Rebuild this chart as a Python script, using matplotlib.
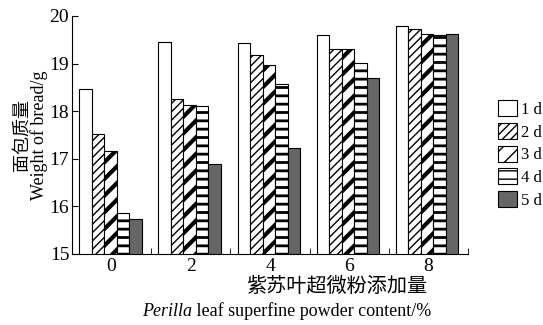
import matplotlib.pyplot as plt
import numpy as np

plt.rcParams['font.family'] = ['Liberation Serif', 'Noto Sans CJK SC']
plt.rcParams['hatch.color'] = 'black'

contents = ['0', '2', '4', '6', '8']
days = ['1 d', '2 d', '3 d', '4 d', '5 d']
d1 = [18.47, 19.45, 19.43, 19.60, 19.80]
d2 = [17.52, 18.25, 19.18, 19.30, 19.72]
d3 = [17.16, 18.12, 18.97, 19.30, 19.62]
d4 = [15.87, 18.10, 18.57, 19.01, 19.60]
d5 = [15.73, 16.89, 17.23, 18.70, 19.62]

series = [d1, d2, d3, d4, d5]
fills = ['white', 'white', 'white', 'white', '#666666']
hatches = [None, '////', '//', '--', None]
hlw = [1.0, 1.0, 3.0, 2.0, 1.0]

fig = plt.figure(figsize=(5.43, 3.25), dpi=100)
ax = fig.add_axes([72/543, 1-254/325, (468-72)/543, (254-16)/325])

x = np.arange(len(contents))
w = 0.158
for i, vals in enumerate(series):
    bars = ax.bar(x - 0.41 + w*i + w/2, vals, width=w, bottom=0,
                  color=fills[i], edgecolor='black', linewidth=0.8,
                  hatch=hatches[i], label=days[i])
    for b in bars:
        try:
            b.set_hatch_linewidth(hlw[i])
        except AttributeError:
            pass

ax.set_ylim(15, 20)
ax.set_xlim(-0.5, 4.5)
ax.set_yticks([15, 16, 17, 18, 19, 20])
ax.set_xticks(x)
ax.set_xticklabels(contents)
ax.set_xticks(np.arange(0.5, 5, 1), minor=True)
ax.tick_params(axis='x', which='major', length=0, labelsize=14, pad=3)
ax.tick_params(axis='x', which='minor', direction='in', length=4)
ax.tick_params(axis='y', direction='in', length=4, labelsize=14, pad=2)
ax.spines['top'].set_visible(False)
ax.spines['right'].set_visible(False)

ax.set_ylabel('面包质量\nWeight of bread/g', fontsize=13, labelpad=1, linespacing=1.0)

fig.text(337/543, 1-287/325, '紫苏叶超微粉添加量', fontsize=14.5, ha='center', va='center')
t = fig.text(142/543, 1-311/325, 'Perilla', fontsize=13, style='italic', ha='left', va='center')
ax.annotate(' leaf superfine powder content/%', xy=(1, 0), xycoords=t,
            fontsize=13, ha='left', va='bottom')

ax.legend(loc='upper left', bbox_to_anchor=(490/543, 1-92/325), bbox_transform=fig.transFigure,
          frameon=False, fontsize=12, handlelength=1.1, handleheight=1.1,
          handletextpad=0.25, labelspacing=0.3, borderpad=0)

fig.savefig('out.png', dpi=100)
